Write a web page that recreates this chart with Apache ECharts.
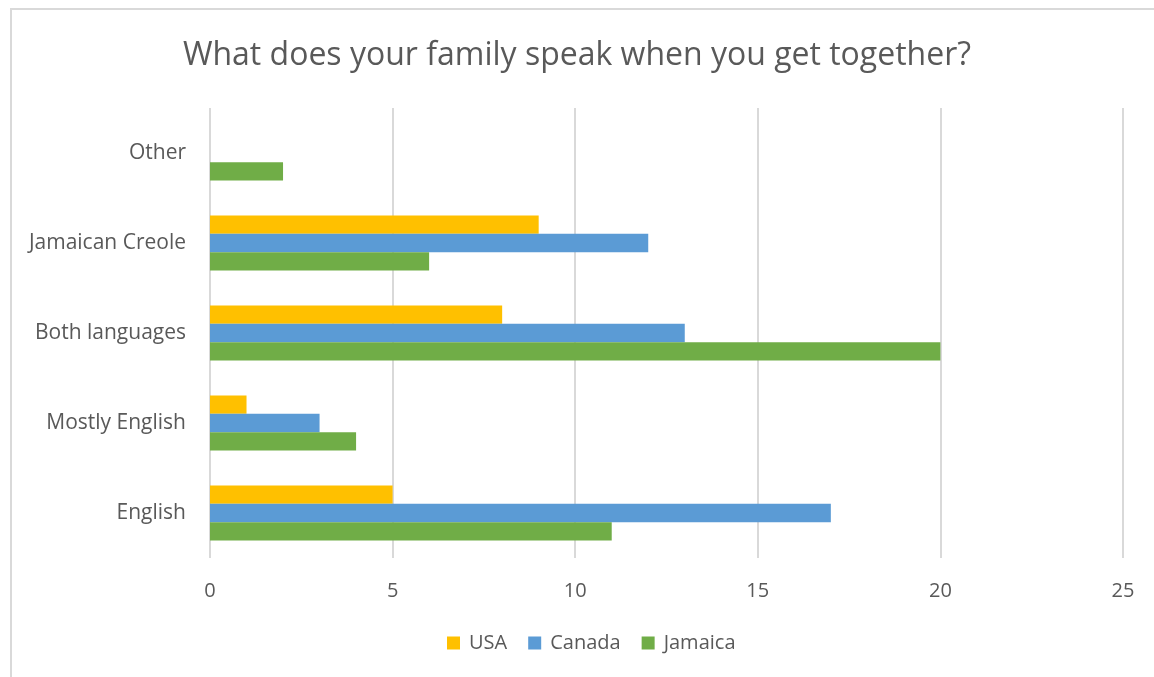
<!DOCTYPE html>
<html>
<head>
<meta charset="utf-8">
<script src="https://cdn.jsdelivr.net/npm/echarts@6/dist/echarts.min.js"></script>
<style>
  html, body { margin: 0; padding: 0; background: #fff; }
  #chart { width: 1154px; height: 677px; }
</style>
</head>
<body>
<div id="chart"></div>
<script>
// Answer categories, bottom to top as drawn on the vertical axis
const categories = ['English', 'Mostly English', 'Both languages', 'Jamaican Creole', 'Other'];
// Respondent counts per country, in the same order as categories
const usa = [5, 1, 8, 9, 0];
const canada = [17, 3, 13, 12, 0];
const jamaica = [11, 4, 20, 6, 2];
const seriesNames = ['USA', 'Canada', 'Jamaica'];
const xTicks = { min: 0, max: 25, interval: 5 };

const chart = echarts.init(document.getElementById('chart'));
const textColor = '#595959';
const fontFamily = '"Open Sans", "Noto Sans", sans-serif';

const barCommon = { type: 'bar', barGap: '0%', barCategoryGap: '39%' };

chart.setOption({
  backgroundColor: '#ffffff',
  animation: false,
  title: {
    text: 'What does your family speak when you get together?',
    left: 'center',
    top: 35,
    textStyle: { color: textColor, fontSize: 32, fontWeight: 'normal', fontFamily }
  },
  graphic: [{
    type: 'polyline',
    shape: { points: [[11, 677], [11, 9], [1154, 9]] },
    style: { stroke: '#d9d9d9', lineWidth: 2, fill: null }
  }],
  legend: {
    data: seriesNames,
    bottom: 24,
    left: 447,
    padding: 0,
    icon: 'rect',
    itemWidth: 13,
    itemHeight: 13,
    itemGap: 21,
    textStyle: { color: textColor, fontSize: 20, fontFamily, padding: [0, 0, 0, 4] }
  },
  grid: { left: 210, right: 31, top: 108, bottom: 119, containLabel: false },
  xAxis: {
    type: 'value',
    min: xTicks.min,
    max: xTicks.max,
    interval: xTicks.interval,
    axisLine: { show: false },
    axisTick: { show: false },
    axisLabel: { color: textColor, fontSize: 20, fontFamily, margin: 23 },
    splitLine: { lineStyle: { color: '#d9d9d9', width: 2 } }
  },
  yAxis: {
    type: 'category',
    data: categories,
    axisLine: { show: false },
    axisTick: { show: false },
    axisLabel: { color: textColor, fontSize: 21, fontFamily, margin: 24 }
  },
  series: [
    Object.assign({ name: 'USA', data: usa, itemStyle: { color: '#FFC000' } }, barCommon),
    Object.assign({ name: 'Canada', data: canada, itemStyle: { color: '#5B9BD5' } }, barCommon),
    Object.assign({ name: 'Jamaica', data: jamaica, itemStyle: { color: '#70AD47' } }, barCommon)
  ]
});
</script>
</body>
</html>
